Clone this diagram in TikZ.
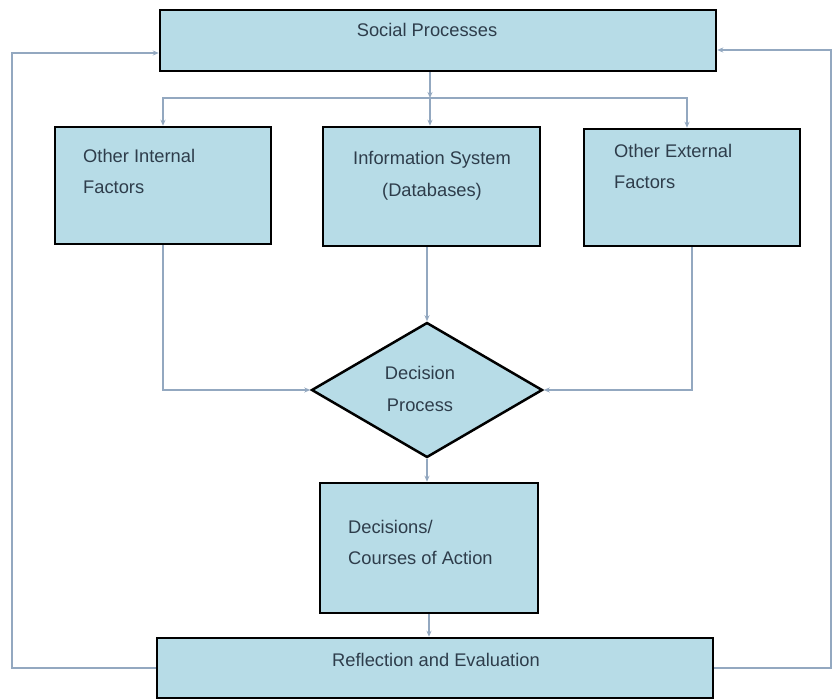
\documentclass[tikz,border=0pt]{standalone}
\usepackage{fontspec}
\setmainfont{Liberation Sans}
\usetikzlibrary{shapes.geometric,arrows.meta}
\definecolor{boxfill}{HTML}{B7DCE7}
\definecolor{conn}{HTML}{93A8C0}
\definecolor{txt}{HTML}{2E3D4B}
\begin{document}
\begin{tikzpicture}[x=1pt,y=-1pt,
  box/.style={draw=black, line width=2.5pt, fill=boxfill, inner sep=0pt},
  dia/.style={diamond, draw=black, line width=2.5pt, fill=boxfill, inner sep=0pt, aspect=1.71},
  lbl/.style={text=txt, font=\fontsize{18.3}{31}\selectfont, inner sep=0pt},
  link/.style={draw=conn, line width=1.4pt, -{Stealth[length=6pt,width=5pt]}},
]
\useasboundingbox[fill=white] (0,0) rectangle (834,700);

% boxes
\node[box, minimum width=556pt, minimum height=61pt] (sp) at (438,40.5) {};
\node[box, minimum width=216pt, minimum height=117pt] (oi) at (163,185.5) {};
\node[box, minimum width=217pt, minimum height=119pt] (is) at (431.5,186.5) {};
\node[box, minimum width=216pt, minimum height=117pt] (oe) at (692,187.5) {};
\node[dia, minimum width=231pt, minimum height=135pt] (dp) at (427,390) {};
\node[box, minimum width=218pt, minimum height=130pt] (dc) at (429,548) {};
\node[box, minimum width=556pt, minimum height=60pt] (re) at (435,668) {};

% labels
\node[lbl] (tsp) at (427,30) {Social Processes};
\node[lbl, align=left, anchor=west] (toi) at (83,171.5) {Other Internal\\Factors};
\node[lbl, align=center] (tis) at (432,176) {Information System\\[1pt](Databases)};
\node[lbl, align=left, anchor=west] (toe) at (614,166.5) {Other External\\Factors};
\node[lbl, align=center] (tdp) at (420,388.5) {Decision\\[1pt]Process};
\node[lbl, align=left, anchor=west] (tdc) at (348,542.5) {Decisions/\\Courses of Action};
\node[lbl] (tre) at (436,660) {Reflection and Evaluation};

% distribution from Social Processes
\coordinate (j) at (430,98);
\coordinate (rj) at (687,98);
\draw[link] (sp.south -| j) -- (j);
\draw[link] (j) -- (j |- is.north);
\draw[link] (j) -| (oi.north);
\draw[link] (j) -- (rj) -- (rj |- oe.north);

% into decision process
\draw[link] (oi.south) |- (dp.west);
\draw[link] (oe.south) |- (dp.east);
\draw[link] (dp.north |- is.south) -- (dp.north);
\draw[link] (dp.south) -- (dp.south |- dc.north);
\draw[link] (dc.south) -- (dc.south |- re.north);

% feedback loops
\coordinate (fl) at (12,53);
\coordinate (fr) at (831,50);
\draw[link] (re.west) -| (fl) -- (fl -| sp.west);
\draw[link] (re.east) -| (fr) -- (fr -| sp.east);
\end{tikzpicture}
\end{document}
